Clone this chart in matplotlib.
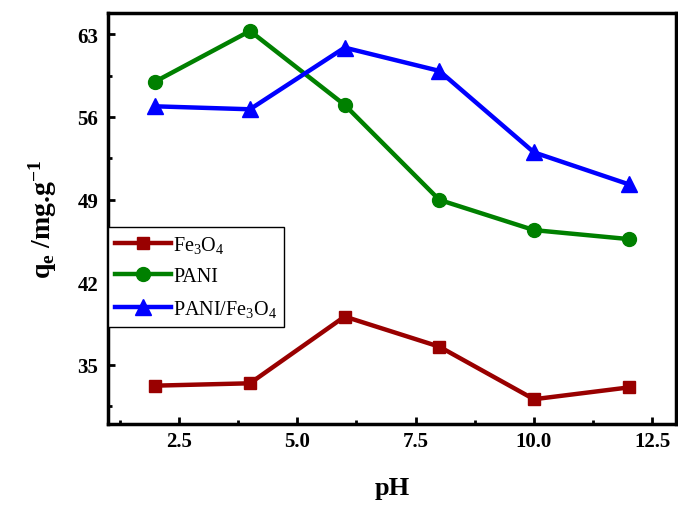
import matplotlib
matplotlib.use("Agg")
import matplotlib.pyplot as plt
from matplotlib.ticker import MultipleLocator

plt.rcParams['font.family'] = ['Liberation Serif', 'DejaVu Serif']
plt.rcParams['mathtext.fontset'] = 'custom'
plt.rcParams['mathtext.rm'] = 'Liberation Serif'
plt.rcParams['mathtext.it'] = 'Liberation Serif:italic'
plt.rcParams['mathtext.bf'] = 'Liberation Serif:bold'

ph = [2, 4, 6, 8, 10, 12]
fe3o4 = [33.25, 33.45, 39.1, 36.55, 32.1, 33.1]
pani = [59.0, 63.28, 57.02, 48.98, 46.42, 45.66]
pani_fe3o4 = [56.9, 56.65, 61.87, 59.9, 53.0, 50.3]

labels = ["Fe$_3$O$_4$", "PANI", "PANI/Fe$_3$O$_4$"]

fig = plt.figure(figsize=(6.78, 5.06), dpi=100)
ax = fig.add_axes([0.1593, 0.160, 0.8377, 0.8123])

ax.plot(ph, fe3o4, color='#990000', lw=3.2, marker='s', ms=9, label=labels[0])
ax.plot(ph, pani, color='#008000', lw=3.2, marker='o', ms=10, label=labels[1])
ax.plot(ph, pani_fe3o4, color='#0000FF', lw=3.2, marker='^', ms=12, label=labels[2])

ax.set_xlim(1, 13)
ax.set_ylim(30, 64.8)
ax.xaxis.set_minor_locator(MultipleLocator(1.25))
ax.yaxis.set_minor_locator(MultipleLocator(3.5))
ax.set_yticks([35, 42, 49, 56, 63])
ax.set_xticks([2.5, 5.0, 7.5, 10.0, 12.5])
ax.set_xticklabels(["2.5", "5.0", "7.5", "10.0", "12.5"])

ax.tick_params(which='both', direction='in', top=False, right=False, width=2)
ax.tick_params(which='major', length=5, labelsize=15)
ax.tick_params(axis='x', which='major', pad=5)
ax.tick_params(axis='y', which='major', pad=7)
ax.tick_params(which='minor', length=3)
for lab in ax.get_xticklabels() + ax.get_yticklabels():
    lab.set_fontweight('bold')
for sp in ax.spines.values():
    sp.set_linewidth(2.5)

ax.set_xlabel("pH", fontsize=19, fontweight='bold', labelpad=18)
ax.set_ylabel(r"q$_\mathbf{e}$ /mg.g$^{\mathbf{-1}}$", fontsize=20, fontweight='bold', labelpad=13)

leg = ax.legend(loc='upper left', bbox_to_anchor=(0.0, 0.479), borderaxespad=0,
                fontsize=14.5, numpoints=1, handlelength=2.8, handletextpad=0.1,
                fancybox=False, framealpha=1, edgecolor='black', labelspacing=0.6,
                borderpad=0.35)
leg.get_frame().set_linewidth(1.0)

fig.savefig("out.png", dpi=100)
